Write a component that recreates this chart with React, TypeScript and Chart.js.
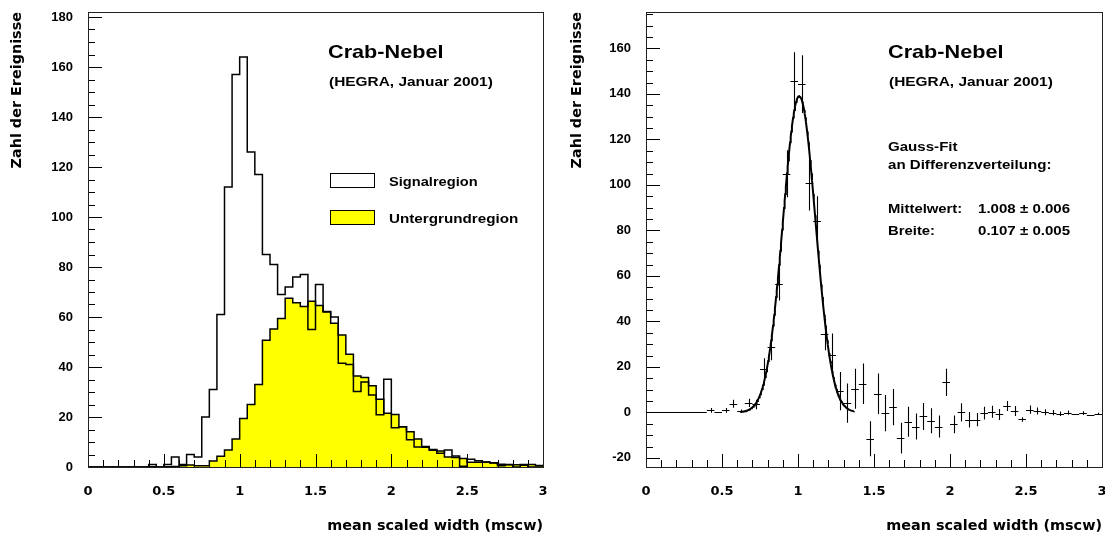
import React, { useEffect, useRef } from "react";
import { Chart, registerables } from "chart.js";

Chart.register(...registerables);

// ---------------- data ----------------
const BIN_WIDTH = 0.05;
const X_MIN = 0;
const X_MAX = 3;
const X_TICKS = [0, 0.5, 1, 1.5, 2, 2.5, 3];
const X_TICK_LABELS = ["0", "0.5", "1", "1.5", "2", "2.5", "3"];
const LEFT_Y_TICKS = [0, 20, 40, 60, 80, 100, 120, 140, 160, 180];
const RIGHT_Y_TICKS = [-20, 0, 20, 40, 60, 80, 100, 120, 140, 160];

// left panel: histogram counts per bin (60 bins of 0.05 in mscw)
const SIGNAL = [
  0, 0, 0, 0, 0, 0, 0, 0, 1, 0,
  1, 4, 1, 5, 4, 20, 31, 61, 112, 157,
  164, 126, 117, 85, 81, 69, 72, 76, 77, 55,
  73, 62, 60, 41.5, 41, 30.2, 34, 28.8, 20.9, 35.1,
  15.7, 16.1, 10.9, 8, 7.9, 7, 5.5, 6.8, 4.4, 0.3,
  3.1, 2.5, 2, 1.6, 0.5, 0.9, 0, 0.7, 0, 0,
];
const BACKGROUND = [
  0, 0, 0, 0, 0, 0, 0, 0, 0.1, 0,
  0.1, 0.2, 0.5, 0.8, 0.5, 0.5, 2.4, 4.3, 6.8, 11.2,
  19.4, 25, 33, 50.7, 55.2, 59.4, 67.5, 65.7, 64.2, 66.3,
  64.6, 62.2, 57.5, 52.8, 45.1, 36.4, 35.8, 32.5, 27.1, 21.5,
  21, 16.1, 14.1, 11.2, 8.2, 6.7, 6.4, 4, 3.8, 3.4,
  1.9, 1.9, 1.9, 1.7, 1.1, 1, 0.9, 1, 1, 0.6,
];

// right panel: difference distribution with errors
const DIFF = [
  0, 0, 0, 0, 0, 0, 0, 0, 0.9, 0,
  0.9, 3.8, 0.5, 4.2, 3.5, 19.2, 28.7, 56.6, 104.9, 145.8,
  144.3, 100.8, 84, 34.3, 25.2, 9.4, 4.1, 10.4, 12.6, -11.6,
  8.2, -0.3, 2.3, -11.3, -4.1, -6.2, -1.8, -3.7, -6.2, 13.2,
  -5.3, 0, -3.2, -3.2, -0.3, 0.3, -0.9, 2.8, 0.6, -3.1,
  1.2, 0.6, 0.1, -0.1, -0.6, -0.1, -0.9, -0.3, -1, -0.6,
];
const DIFF_ERR = [
  0, 0, 0, 0, 0, 0, 0, 0, 1, 0,
  1, 1.8, 0.8, 1.8, 2.1, 4.6, 5.8, 7.4, 10.3, 12.5,
  12.7, 12, 11, 7, 9.5, 8.4, 8.6, 8.8, 8.9, 7.7,
  8.9, 8, 8, 6.8, 6.6, 5.7, 5.9, 5.5, 4.8, 6,
  3.9, 4, 3.4, 2.9, 2.8, 2.6, 2.4, 2.2, 2.2, 1,
  1.8, 1.5, 1.3, 1.2, 1, 0.9, 0, 0.8, 0, 0.5,
];

// Gauss fit parameters (shown in the chart)
const FIT_AMPLITUDE = 139;
const FIT_MEAN = 1.008;
const FIT_SIGMA = 0.107;
const FIT_RANGE = [0.62, 1.37];

// ---------------- styling ----------------
const AXIS_FAMILY = "'DejaVu Sans', 'Liberation Sans', Arial, sans-serif";
const NOTE_FAMILY = "'Liberation Sans', Arial, Helvetica, sans-serif";
const NOTE_STRETCH = 1.17;
const X_TICK_FONT = { family: AXIS_FAMILY, size: 13, weight: "bold" as const };
const Y_TICK_FONT = { family: NOTE_FAMILY, size: 13, weight: "bold" as const };
const TITLE_FONT = { family: AXIS_FAMILY, size: 14.4, weight: "bold" as const };

function histPoints(values: number[]) {
  const pts = values.map((v, i) => ({ x: X_MIN + i * BIN_WIDTH, y: v }));
  pts.push({ x: X_MIN + values.length * BIN_WIDTH, y: values[values.length - 1] });
  return pts;
}

const frameTicks = {
  id: "frameTicks",
  afterDatasetsDraw(chart: any, _args: any, opts: any) {
    const { ctx, chartArea: a, scales } = chart;
    const xs = scales.x;
    const ys = scales.y;
    ctx.save();
    ctx.strokeStyle = "#000";
    ctx.lineWidth = 1;
    ctx.beginPath();
    for (let k = 0; ; k++) {
      const v = opts.xMin + k * opts.xMinor;
      if (v > opts.xMax + 1e-9) break;
      const isMajor = Math.abs(v / opts.xMajor - Math.round(v / opts.xMajor)) < 1e-6;
      const len = isMajor ? 13 : 7;
      const px = Math.round(xs.getPixelForValue(v)) + 0.5;
      ctx.moveTo(px, a.bottom);
      ctx.lineTo(px, a.bottom - len);
    }
    const yStart = Math.ceil(ys.min / opts.yMinor - 1e-9) * opts.yMinor;
    for (let k = 0; ; k++) {
      const v = yStart + k * opts.yMinor;
      if (v > ys.max + 1e-9) break;
      const isMajor = Math.abs(v / opts.yMajor - Math.round(v / opts.yMajor)) < 1e-6;
      const len = isMajor ? 14 : 7;
      const py = Math.round(ys.getPixelForValue(v)) + 0.5;
      ctx.moveTo(a.left, py);
      ctx.lineTo(a.left + len, py);
    }
    ctx.stroke();
    ctx.strokeStyle = "#222";
    ctx.strokeRect(Math.round(a.left) + 0.5, Math.round(a.top) + 0.5, Math.round(a.right - a.left), Math.round(a.bottom - a.top));
    ctx.restore();
  },
};

const annotations = {
  id: "annotations",
  afterDraw(chart: any, _args: any, opts: any) {
    const { ctx } = chart;
    ctx.save();
    (opts.boxes || []).forEach((b: any) => {
      ctx.fillStyle = b.fill;
      ctx.fillRect(b.x, b.y, b.w, b.h);
      ctx.strokeStyle = "#000";
      ctx.lineWidth = 1;
      ctx.strokeRect(b.x + 0.5, b.y + 0.5, b.w, b.h);
    });
    (opts.texts || []).forEach((t: any) => {
      ctx.save();
      ctx.font = `bold ${t.size}px ${NOTE_FAMILY}`;
      ctx.fillStyle = "#000";
      ctx.textAlign = "left";
      ctx.textBaseline = "alphabetic";
      ctx.translate(t.x, t.y);
      ctx.scale(NOTE_STRETCH, 1);
      ctx.fillText(t.text, 0, 0);
      ctx.restore();
    });
    ctx.restore();
  },
};

const errorBars = {
  id: "errorBars",
  afterDatasetsDraw(chart: any, _args: any, opts: any) {
    const { ctx, scales } = chart;
    const ds = chart.data.datasets[opts.datasetIndex];
    if (!ds) return;
    ctx.save();
    ctx.strokeStyle = "#000";
    ctx.lineWidth = 1.1;
    ctx.beginPath();
    ds.data.forEach((p: any) => {
      const x0 = scales.x.getPixelForValue(p.x - BIN_WIDTH / 2);
      const x1 = scales.x.getPixelForValue(p.x + BIN_WIDTH / 2);
      const xc = Math.round(scales.x.getPixelForValue(p.x)) + 0.5;
      const yc = Math.round(scales.y.getPixelForValue(p.y)) + 0.5;
      ctx.moveTo(x0, yc);
      ctx.lineTo(x1, yc);
      if (p.err > 0) {
        ctx.moveTo(xc, scales.y.getPixelForValue(p.y + p.err));
        ctx.lineTo(xc, scales.y.getPixelForValue(p.y - p.err));
      }
    });
    ctx.stroke();
    ctx.restore();
  },
};

function zeroPadding(s: any) {
  s.paddingTop = 0;
  s.paddingBottom = 0;
  s.paddingLeft = 0;
  s.paddingRight = 0;
}

function baseScales(yMin: number, yMax: number, yTicks: number[], yWidth: number) {
  return {
    x: {
      type: "linear" as const,
      min: X_MIN,
      max: X_MAX,
      grid: { display: false, drawTicks: false },
      border: { display: false },
      afterBuildTicks: (s: any) => {
        s.ticks = X_TICKS.map((v) => ({ value: v }));
      },
      ticks: {
        font: X_TICK_FONT,
        color: "#000",
        padding: 17,
        maxRotation: 0,
        autoSkip: false,
        callback: (v: any) => X_TICK_LABELS[X_TICKS.indexOf(Number(v))],
      },
      title: {
        display: true,
        text: "mean scaled width (mscw)",
        align: "end" as const,
        font: TITLE_FONT,
        color: "#000",
        padding: { top: 0, bottom: 2 },
      },
      afterFit: (s: any) => {
        s.height = 70;
        zeroPadding(s);
      },
    },
    y: {
      type: "linear" as const,
      min: yMin,
      max: yMax,
      grid: { display: false, drawTicks: false },
      border: { display: false },
      afterBuildTicks: (s: any) => {
        s.ticks = yTicks.map((v) => ({ value: v }));
      },
      ticks: {
        font: Y_TICK_FONT,
        color: "#000",
        padding: 15,
        autoSkip: false,
        callback: (v: any) => String(v),
      },
      title: {
        display: true,
        text: "Zahl der Ereignisse",
        align: "end" as const,
        font: TITLE_FONT,
        color: "#000",
        padding: { top: 9, bottom: 0 },
      },
      afterFit: (s: any) => {
        s.width = yWidth;
        zeroPadding(s);
      },
    },
  };
}

function LeftChart() {
  const ref = useRef<HTMLCanvasElement>(null);
  useEffect(() => {
    const chart = new Chart(ref.current!, {
      type: "line",
      data: {
        datasets: [
          {
            label: "Signalregion",
            data: histPoints(SIGNAL),
            stepped: "before",
            borderColor: "#000",
            borderWidth: 1.5,
            pointRadius: 0,
            fill: false,
            order: 0,
          },
          {
            label: "Untergrundregion",
            data: histPoints(BACKGROUND),
            stepped: "before",
            borderColor: "#000",
            borderWidth: 1.5,
            backgroundColor: "#ffff00",
            pointRadius: 0,
            fill: "origin",
            order: 1,
          },
        ],
      },
      options: {
        animation: false,
        responsive: false,
        maintainAspectRatio: false,
        layout: { padding: { top: 12, right: 17, left: 0, bottom: 0 } },
        scales: baseScales(0, 182, LEFT_Y_TICKS, 88),
        plugins: {
          legend: { display: false },
          tooltip: { enabled: false },
          frameTicks: { xMin: 0, xMax: 3, xMinor: 0.1, xMajor: 0.5, yMinor: 5, yMajor: 20 },
          annotations: {
            texts: [
              { text: "Crab-Nebel", x: 328, y: 58, size: 18.5 },
              { text: "(HEGRA, Januar 2001)", x: 329, y: 86, size: 13.2 },
              { text: "Signalregion", x: 389, y: 186, size: 12.5 },
              { text: "Untergrundregion", x: 389, y: 222.5, size: 13 },
            ],
            boxes: [
              { x: 330, y: 173, w: 44, h: 14, fill: "#ffffff" },
              { x: 330, y: 210, w: 44, h: 14, fill: "#ffff00" },
            ],
          },
        } as any,
      },
      plugins: [frameTicks, annotations],
    });
    return () => chart.destroy();
  }, []);
  return <canvas ref={ref} width={560} height={537} style={{ position: "absolute", left: 0, top: 0 }} />;
}

function RightChart() {
  const ref = useRef<HTMLCanvasElement>(null);
  useEffect(() => {
    const points = DIFF.map((v, i) => ({ x: X_MIN + (i + 0.5) * BIN_WIDTH, y: v, err: DIFF_ERR[i] }));
    const fit: { x: number; y: number }[] = [];
    for (let k = 0; ; k++) {
      const x = FIT_RANGE[0] + k * 0.004;
      if (x > FIT_RANGE[1] + 1e-9) break;
      fit.push({ x, y: FIT_AMPLITUDE * Math.exp(-((x - FIT_MEAN) ** 2) / (2 * FIT_SIGMA * FIT_SIGMA)) });
    }
    const chart = new Chart(ref.current!, {
      type: "scatter",
      data: {
        datasets: [
          {
            label: "Differenz",
            data: points,
            pointRadius: 0,
            showLine: false,
          },
          {
            type: "line",
            label: "Gauss-Fit",
            data: fit,
            borderColor: "#000",
            borderWidth: 2,
            pointRadius: 0,
            tension: 0,
            fill: false,
          },
        ],
      } as any,
      options: {
        animation: false,
        responsive: false,
        maintainAspectRatio: false,
        layout: { padding: { top: 12, right: 3, left: 0, bottom: 0 } },
        scales: baseScales(-24, 176, RIGHT_Y_TICKS, 86),
        plugins: {
          legend: { display: false },
          tooltip: { enabled: false },
          frameTicks: { xMin: 0, xMax: 3, xMinor: 0.1, xMajor: 0.5, yMinor: 5, yMajor: 20 },
          errorBars: { datasetIndex: 0 },
          annotations: {
            texts: [
              { text: "Crab-Nebel", x: 328, y: 58, size: 18.5 },
              { text: "(HEGRA, Januar 2001)", x: 329, y: 86, size: 13.2 },
              { text: "Gauss-Fit", x: 328, y: 150.5, size: 12.9 },
              { text: "an Differenzverteilung:", x: 328, y: 169, size: 12.9 },
              { text: "Mittelwert:", x: 328, y: 213, size: 12.7 },
              { text: "1.008 \u00b1 0.006", x: 418, y: 213, size: 12.9 },
              { text: "Breite:", x: 328, y: 235, size: 12.7 },
              { text: "0.107 \u00b1 0.005", x: 418, y: 235, size: 12.9 },
            ],
          },
        } as any,
      },
      plugins: [frameTicks, errorBars, annotations],
    });
    return () => chart.destroy();
  }, []);
  return <canvas ref={ref} width={545} height={537} style={{ position: "absolute", left: 560, top: 0 }} />;
}

export default function App() {
  return (
    <div style={{ position: "fixed", left: 0, top: 0, width: 1105, height: 537, background: "#fff" }}>
      <LeftChart />
      <RightChart />
    </div>
  );
}
